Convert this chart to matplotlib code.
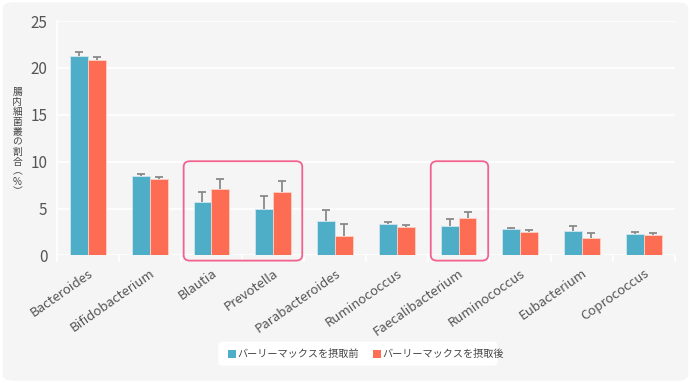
#!/usr/bin/env python3

import numpy as np
import matplotlib.pyplot as plt
from matplotlib.patches import FancyBboxPatch, Rectangle

plt.rcParams['font.family'] = ['Noto Sans CJK JP', 'DejaVu Sans']

# data
genera = ['Bacteroides', 'Bifidobacterium', 'Blautia', 'Prevotella',
          'Parabacteroides', 'Ruminococcus', 'Faecalibacterium',
          'Ruminococcus', 'Eubacterium', 'Coprococcus']
before = [21.3, 8.45, 5.7, 4.97, 3.7, 3.38, 3.17, 2.79, 2.57, 2.29]
before_err = [0.4, 0.2, 1.03, 1.34, 1.14, 0.18, 0.68, 0.17, 0.53, 0.24]
after = [20.8, 8.2, 7.09, 6.77, 2.07, 3.06, 4.02, 2.5, 1.86, 2.18]
after_err = [0.32, 0.13, 1.07, 1.13, 1.25, 0.18, 0.64, 0.18, 0.5, 0.18]
yticks = [0, 5, 10, 15, 20, 25]
ylabel = '腸内細菌叢の割合︵%︶'
legend_labels = ['バーリーマックスを摂取前', 'バーリーマックスを摂取後']

BLUE = '#4eadc7'
RED = '#fd6d54'
BG = '#f5f5f5'
PINK = '#f2628f'
TEXT = '#555555'
ERR = '#8a8a8a'

fig = plt.figure(figsize=(6.91, 3.83), dpi=100)
fig.patch.set_facecolor('white')
# rounded grey panel behind everything
fig.patches.append(FancyBboxPatch((0.004, 0.006), 0.992, 0.988,
                                  boxstyle='round,pad=0,rounding_size=0.016',
                                  transform=fig.transFigure, fc=BG, ec='none',
                                  zorder=-10))

ax = fig.add_axes([0.0825, 0.333, 0.894, 0.612])
ax.set_facecolor(BG)

x = np.arange(len(genera))
w = 0.29
for off, vals, errs, col, edge in [(-w / 2, before, before_err, BLUE, '#cfe6ee'),
                                   (w / 2, after, after_err, RED, '#fbd2c8')]:
    vals = np.array(vals)
    tops = vals + np.array(errs)
    ax.bar(x + off, vals, w, color=col, edgecolor=edge, linewidth=0.6, zorder=3)
    # upper-only error bars
    ax.vlines(x + off, vals, tops, color=ERR, lw=1.3, zorder=4)
    ax.plot(x + off, tops, ls='none', marker='_', ms=6, mew=1.3, color=ERR, zorder=4)

ax.set_xlim(-0.5, len(genera) - 0.5)
ax.set_ylim(0, 25)
ax.set_yticks(yticks)
ax.yaxis.grid(True, color='white', linewidth=1.2, zorder=0)
ax.tick_params(axis='y', length=0, labelsize=11, labelcolor=TEXT, pad=7)
for s in ['top', 'right', 'bottom']:
    ax.spines[s].set_visible(False)
ax.spines['left'].set_color('white')
ax.spines['left'].set_linewidth(1.2)

ax.set_xticks(x)
ax.set_xticklabels(genera, rotation=35, ha='right', rotation_mode='anchor',
                   fontsize=9.5, color=TEXT)
ax.tick_params(axis='x', length=0, pad=8)
ax.set_xticks(np.arange(len(genera) + 1) - 0.5, minor=True)
ax.tick_params(axis='x', which='minor', length=5, color='white', width=1.2)

# highlight boxes
for x0, x1 in [(1.55, 3.47), (5.55, 6.48)]:
    ax.add_patch(FancyBboxPatch((x0, -0.55), x1 - x0, 10.6,
                                boxstyle='round,pad=0,rounding_size=0.1',
                                mutation_aspect=6, fc='none', ec=PINK,
                                lw=1.3, clip_on=False, zorder=5))

fig.text(0.025, 0.63, '\n'.join(ylabel), ha='center', va='center',
         fontsize=7, color='#444444', linespacing=1.0)

# legend box
fig.patches.append(FancyBboxPatch((0.316, 0.045), 0.404, 0.063,
                                  boxstyle='round,pad=0,rounding_size=0.008',
                                  transform=fig.transFigure, fc='white',
                                  ec='none', zorder=1))
for xs, col, lab in [(0.33, BLUE, legend_labels[0]), (0.54, RED, legend_labels[1])]:
    fig.patches.append(Rectangle((xs, 0.066), 0.011, 0.02, transform=fig.transFigure,
                                 fc=col, ec='none', zorder=2))
    fig.text(xs + 0.014, 0.076, lab, ha='left', va='center', fontsize=7.3,
             color='#444444', zorder=3)

fig.savefig('out.png', dpi=100, facecolor=fig.get_facecolor())
